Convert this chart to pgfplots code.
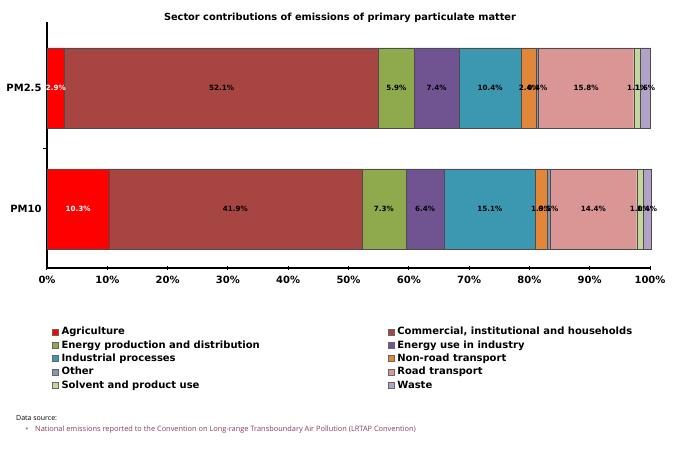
\documentclass[border=0pt]{standalone}
\usepackage{pgfplots}
\pgfplotsset{compat=1.18}
\usepackage{pgfplotstable}
\usepackage{fontspec}
\setmainfont{DejaVu Sans}
\newfontfamily\srcfont{Open Sans}
\definecolor{cAgri}{RGB}{255,0,0}
\definecolor{cComm}{RGB}{166,69,66}
\definecolor{cEprod}{RGB}{143,170,77}
\definecolor{cEind}{RGB}{112,84,146}
\definecolor{cIndu}{RGB}{60,152,176}
\definecolor{cNonroad}{RGB}{226,135,58}
\definecolor{cOther}{RGB}{132,151,176}
\definecolor{cRoad}{RGB}{217,150,148}
\definecolor{cSolv}{RGB}{195,214,155}
\definecolor{cWaste}{RGB}{179,162,199}
\definecolor{srccol}{RGB}{140,60,100}
\definecolor{bulcol}{RGB}{90,140,150}
\pgfplotstableread{
y agri comm eprod eind indu nonroad other road solv waste
0 10.3 41.9 7.3 6.4 15.1 1.9 0.5 14.4 1.0 1.4
1 2.9 52.1 5.9 7.4 10.4 2.4 0.4 15.8 1.1 1.6
}\data
\begin{document}
\begin{tikzpicture}[x=1pt,y=1pt]
\fill[white] (0,0) rectangle (680,450);
\path[use as bounding box] (0,0) rectangle (680,450);
\node[font=\fontsize{9.8}{11}\selectfont\bfseries] at (340,432) {Sector contributions of emissions of primary particulate matter};
\begin{axis}[
  at={(47pt,182pt)}, anchor=south west,
  width=603pt, height=246pt, scale only axis,
  xbar stacked, bar width=80pt,
  xmin=0, xmax=100, ymin=-0.488, ymax=1.545,
  axis x line*=bottom, axis y line*=left,
  axis line style={line width=1.5pt, -},
  xtick={0,10,...,100},
  xticklabels={0\%,10\%,20\%,30\%,40\%,50\%,60\%,70\%,80\%,90\%,100\%},
  ytick={0,1}, yticklabels={PM10,PM2.5},
  ytick style={draw=none},
  xtick style={line width=1pt, black},
  major tick length=4pt, tick align=center,
  tick label style={font=\fontsize{10}{11}\selectfont\bfseries},
  xticklabel style={yshift=-3pt},
  clip=false,
  /pgf/number format/assume math mode=true,
  point meta=explicit,
  nodes near coords={\pgfmathprintnumber[fixed,fixed zerofill,precision=1,assume math mode=true]{\pgfplotspointmeta}\%},
  every node near coord/.append style={anchor=center, font=\fontsize{7.2}{8}\selectfont\bfseries, text=black, inner sep=0pt},
  every axis plot/.append style={draw=black!70, line width=0.4pt},
  legend image code/.code={\draw[#1, draw=black!60, line width=0.5pt] (0pt,-3pt) rectangle (6pt,3pt);},
  legend columns=2,
  legend cell align=left,
  legend style={at={(0.008,-0.232)}, anchor=north west, draw=none, fill=none, inner sep=0pt,
    font=\fontsize{10}{11}\selectfont\bfseries,
    nodes={inner xsep=1pt, inner ysep=2.1pt},
    /tikz/every odd column/.append style={column sep=2pt},
    /tikz/every even column/.append style={column sep=127pt}},
]
\addplot[fill=cAgri, every node near coord/.append style={text=white}] table[x=agri, y=y, meta=agri] {\data};
\addlegendentry{Agriculture}
\addplot[fill=cComm] table[x=comm, y=y, meta=comm] {\data};
\addlegendentry{Commercial, institutional and households}
\addplot[fill=cEprod] table[x=eprod, y=y, meta=eprod] {\data};
\addlegendentry{Energy production and distribution}
\addplot[fill=cEind] table[x=eind, y=y, meta=eind] {\data};
\addlegendentry{Energy use in industry}
\addplot[fill=cIndu] table[x=indu, y=y, meta=indu] {\data};
\addlegendentry{Industrial processes}
\addplot[fill=cNonroad] table[x=nonroad, y=y, meta=nonroad] {\data};
\addlegendentry{Non-road transport}
\addplot[fill=cOther] table[x=other, y=y, meta=other] {\data};
\addlegendentry{Other}
\addplot[fill=cRoad] table[x=road, y=y, meta=road] {\data};
\addlegendentry{Road transport}
\addplot[fill=cSolv] table[x=solv, y=y, meta=solv] {\data};
\addlegendentry{Solvent and product use}
\addplot[fill=cWaste] table[x=waste, y=y, meta=waste] {\data};
\addlegendentry{Waste}
\draw[line width=1pt] (axis cs:0,0.5) -- ([xshift=-4pt]axis cs:0,0.5);
\end{axis}
\node[anchor=west, font=\srcfont\fontsize{7}{8}\selectfont, inner sep=0pt] at (16,32) {Data source:};
\node[font=\fontsize{7}{8}\selectfont, text=bulcol, inner sep=0pt] at (27,20) {\textbullet};
\node[anchor=west, font=\srcfont\fontsize{7.4}{8}\selectfont, text=srccol, inner sep=0pt] at (35,20) {National emissions reported to the Convention on Long-range Transboundary Air Pollution (LRTAP Convention)};
\end{tikzpicture}
\end{document}
